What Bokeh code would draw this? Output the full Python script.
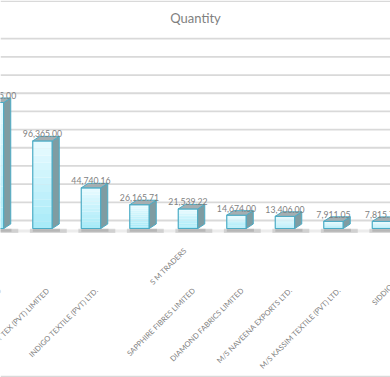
import math
from bokeh.plotting import figure
from bokeh.models import Range1d, Span, Label, ColumnDataSource
from bokeh.core.properties import value
from bokeh.embed import file_html
from bokeh.resources import INLINE

# ---------------- data ----------------
categories = [
    "ARTISTIC MILLINERS (PVT) LIMITED",
    "LUCKY TEX (PVT) LIMITED",
    "INDIGO TEXTILE (PVT) LTD.",
    "S M TRADERS",
    "SAPPHIRE FIBRES LIMITED",
    "DIAMOND FABRICS LIMITED",
    "M/S NAVEENA EXPORTS LTD.",
    "M/S KASSIM TEXTILE (PVT) LTD.",
    "SIDDIQSONS DENIM MILLS LIMITED",
]
quantity = [138615.00, 96365.00, 44740.16, 26165.71, 21539.22, 14674.00, 13406.00, 7911.05, 7815.72]
grid_values = [0, 20000, 40000, 60000, 80000, 100000, 120000, 140000, 160000, 180000, 200000]
chart_title = "Quantity"

# ---------------- layout / style ----------------
W, H = 390, 377
STEP = 48.5          # px between bars
FIRST = -6.5         # px of first bar centre
BASE = 228.0         # px of value 0 (front)
VPP = 1100.0         # value units per px

FONT = "Lato"
TXT = "#7f7f7f"
GRID = "#d9d9d9"
EDGE = "#4bacc6"
SIDE = "#7f9ca2"
TOP = "#a5aeb1"
C_BOT = (0xa6, 0xea, 0xf8)
C_TOP = (0xe9, 0xfb, 0xff)

x0 = (0 - FIRST) / STEP
x1 = (W - FIRST) / STEP
y0 = (BASE - H) * VPP
y1 = BASE * VPP

p = figure(width=W, height=H, x_range=Range1d(x0, x1), y_range=Range1d(y0, y1),
           output_backend="svg", toolbar_location=None, min_border=0,
           x_axis_location=None, y_axis_location=None)
p.grid.visible = False
p.outline_line_color = None
p.background_fill_color = "white"
p.border_fill_color = "white"

idx = list(range(len(categories)))

# chart border lines (top / bottom)
for ry in (0.8, 376.0):
    p.add_layout(Span(location=(BASE - ry) * VPP, dimension="width",
                      line_color=GRID, line_width=1.5))

# back-wall gridlines
back = 8 * VPP
p.segment(x0=[x0] * len(grid_values), x1=[x1] * len(grid_values),
          y0=[g + back for g in grid_values], y1=[g + back for g in grid_values],
          line_color=GRID, line_width=1.8)

# floor band and shadows
p.segment(x0=[x0], x1=[x1], y0=[-2.5 * VPP], y1=[-2.5 * VPP], line_color="#ececec", line_width=3)
p.quad(left=[i - 0.26 for i in idx], right=[i + 0.50 for i in idx],
       bottom=[-4.5 * VPP] * len(idx), top=[-0.3 * VPP] * len(idx),
       fill_color="#8a8a8a", fill_alpha=0.28, line_color=None)
p.quad(left=[i - 0.2 for i in idx], right=[i + 0.36 for i in idx],
       bottom=[-3.2 * VPP] * len(idx), top=[-0.3 * VPP] * len(idx),
       fill_color="#7a7a7a", fill_alpha=0.3, line_color=None)

# bars (3D look)
half = 9.75 / STEP
dx = 7.0 / STEP
dy = 4.5 * VPP
N = 12
L, R, B, T, C = [], [], [], [], []
for i, v in zip(idx, quantity):
    for j in range(N):
        f = (j + 0.5) / N
        col = tuple(int(round(C_BOT[k] + (C_TOP[k] - C_BOT[k]) * f)) for k in range(3))
        L.append(i - half); R.append(i + half)
        B.append(v * j / N); T.append(v * (j + 1) / N)
        C.append("#%02x%02x%02x" % col)
p.quad(left=L, right=R, bottom=B, top=T, fill_color=C, line_color=None)
p.quad(left=[i - half for i in idx], right=[i + half for i in idx],
       bottom=[0] * len(idx), top=quantity, fill_color=None,
       line_color=EDGE, line_width=1.2)

side_xs, side_ys, top_xs, top_ys = [], [], [], []
for i, v in zip(idx, quantity):
    side_xs.append([i + half, i + half + dx, i + half + dx, i + half])
    side_ys.append([0, dy, v + dy, v])
    top_xs.append([i - half, i + half, i + half + dx, i - half + dx])
    top_ys.append([v, v, v + dy, v + dy])
p.patches(side_xs, side_ys, fill_color=SIDE, line_color=EDGE, line_width=1)
p.patches(top_xs, top_ys, fill_color=TOP, line_color=EDGE, line_width=1)

# data labels
p.text(x=idx, y=quantity, text=["{:,.2f}".format(v) for v in quantity],
       text_font=value(FONT), text_font_size="8.7px", text_color=TXT,
       text_align="center", text_baseline="alphabetic", y_offset=-7)

# category labels (rotated 45 degrees), anchored along a diagonal below each bar
DIAG = 33.4
label_align = ["right", "right", "right", "left", "right", "right", "right", "right", "left"]
label_t = [-27.5, -27.5, -27.5, -21.5, -27.5, -27.5, -27.5, -27.5, -42]
lx = [i + (DIAG + t) / STEP for i, t in zip(idx, label_t)]
ly = [-(DIAG - t) * VPP for t in label_t]
src = ColumnDataSource(dict(x=lx, y=ly, text=categories, align=label_align))
p.text(x="x", y="y", text="text", source=src, angle=math.pi / 4,
       text_align="align", text_font=value(FONT), text_font_size="7.5px",
       text_color=TXT, text_baseline="middle")

# title
p.add_layout(Label(x=195, y=H - 17, x_units="screen", y_units="screen",
                   text=chart_title, text_align="center", text_baseline="middle",
                   text_font=FONT, text_font_size="13px", text_color=TXT))

open("out.html", "w").write(file_html(p, INLINE))
